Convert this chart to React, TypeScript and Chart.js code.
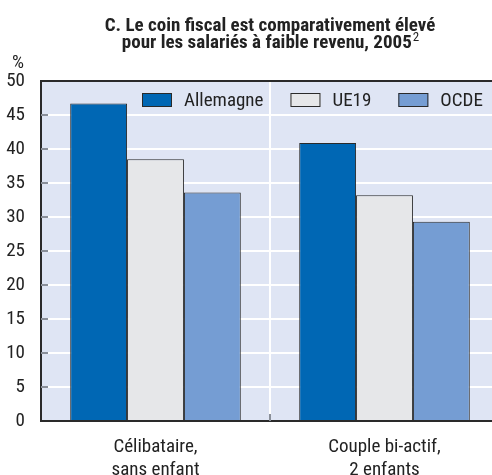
import React, { useEffect, useRef } from "react";
import { Chart, registerables } from "chart.js";

Chart.register(...registerables);

const titleLines = ["C. Le coin fiscal est comparativement élevé", "pour les salariés à faible revenu, 2005"];
const titleSup = "2";
const unitLabel = "%";
const categories = [["Célibataire,", "sans enfant"], ["Couple bi-actif,", "2 enfants"]];
const seriesNames = ["Allemagne", "UE19", "OCDE"];
const allemagne = [46.7, 40.9];
const ue19 = [38.5, 33.2];
const ocde = [33.6, 29.3];
const yTicks = [0, 5, 10, 15, 20, 25, 30, 35, 40, 45, 50];

const FONT = '"Liberation Sans Narrow", "Arial Narrow", "Roboto Condensed", "DejaVu Sans Condensed", "Liberation Sans", sans-serif';
const colors = ["#0067b4", "#e6e7e9", "#759dd3"];

const decorPlugin = {
  id: "decor",
  beforeDraw(chart: any) {
    const { ctx, chartArea: a } = chart;
    ctx.save();
    ctx.fillStyle = "#dfe5f4";
    ctx.fillRect(a.left, a.top, a.right - a.left, a.bottom - a.top);
    ctx.restore();
  },
  afterDatasetsDraw(chart: any) {
    const { ctx, chartArea: a } = chart;
    const y = chart.scales.y;
    const x = chart.scales.x;
    ctx.save();
    ctx.strokeStyle = "#8a8f99";
    ctx.lineWidth = 2;
    yTicks.forEach((v) => {
      if (v === 0 || v === 50) return;
      const py = Math.round(y.getPixelForValue(v));
      ctx.beginPath();
      ctx.moveTo(a.left, py);
      ctx.lineTo(a.left + 7, py);
      ctx.stroke();
    });
    const mid = (x.getPixelForValue(0) + x.getPixelForValue(1)) / 2;
    ctx.beginPath();
    ctx.moveTo(mid, a.bottom);
    ctx.lineTo(mid, a.bottom - 7);
    ctx.stroke();
    ctx.strokeStyle = "#2a2a2a";
    ctx.lineWidth = 2;
    ctx.beginPath();
    ctx.moveTo(a.left - 1, a.top);
    ctx.lineTo(a.right, a.top);
    ctx.stroke();
    ctx.restore();
  },
  afterDraw(chart: any) {
    const { ctx, chartArea: a } = chart;
    ctx.save();
    const cx = (a.left + a.right) / 2;
    ctx.fillStyle = "#222";
    ctx.font = `bold 19px ${FONT}`;
    ctx.textAlign = "center";
    ctx.textBaseline = "alphabetic";
    ctx.fillText(titleLines[0], cx, 31);
    const w2 = ctx.measureText(titleLines[1]).width;
    ctx.font = `13px ${FONT}`;
    const ws = ctx.measureText(titleSup).width;
    const start = cx - (w2 + ws) / 2;
    ctx.textAlign = "left";
    ctx.font = `bold 19px ${FONT}`;
    ctx.fillText(titleLines[1], start, 48);
    ctx.font = `13px ${FONT}`;
    ctx.fillText(titleSup, start + w2 + 1, 41);
    ctx.font = `19px ${FONT}`;
    ctx.textAlign = "center";
    ctx.fillText(unitLabel, 18, 68);
    let lx = a.left + 101;
    const ly = a.top + 12;
    ctx.font = `19px ${FONT}`;
    ctx.textBaseline = "middle";
    ctx.textAlign = "left";
    chart.data.datasets.forEach((ds: any) => {
      ctx.fillStyle = ds.backgroundColor;
      ctx.fillRect(lx, ly, 30, 14);
      ctx.strokeStyle = "#2a2a2a";
      ctx.lineWidth = 1;
      ctx.strokeRect(lx + 0.5, ly + 0.5, 29, 13);
      ctx.fillStyle = "#222";
      ctx.fillText(ds.label, lx + 42, ly + 8);
      lx += 42 + ctx.measureText(ds.label).width + 27;
    });
    ctx.restore();
  },
};

export default function App() {
  const ref = useRef<HTMLCanvasElement>(null);
  useEffect(() => {
    if (!ref.current) return;
    const chart = new Chart(ref.current, {
      type: "bar",
      data: {
        labels: categories,
        datasets: [allemagne, ue19, ocde].map((d, i) => ({
          label: seriesNames[i],
          data: d,
          backgroundColor: colors[i],
          borderColor: "#2a2a2a",
          borderWidth: 1,
          categoryPercentage: 0.745,
          barPercentage: 1,
        })),
      },
      options: {
        responsive: false,
        animation: false,
        layout: { padding: { top: 81, left: 0, right: 0, bottom: 0 } },
        plugins: { legend: { display: false }, title: { display: false }, tooltip: { enabled: false } },
        scales: {
          x: {
            grid: { color: "#ffffff", lineWidth: 2, drawTicks: false, offset: true },
            border: { color: "#2a2a2a", width: 2 },
            ticks: { color: "#222", font: { family: FONT, size: 19 }, padding: 15, maxRotation: 0 },
            afterFit: (s: any) => { s.height = 54; },
          },
          y: {
            min: 0,
            max: 50,
            afterBuildTicks: (s: any) => { s.ticks = yTicks.map((v) => ({ value: v })); },
            grid: { color: "#ffffff", lineWidth: 2, drawTicks: false },
            border: { color: "#2a2a2a", width: 2 },
            ticks: { color: "#222", font: { family: FONT, size: 19 }, padding: 16 },
            afterFit: (s: any) => { s.width = 41; },
          },
        },
      },
      plugins: [decorPlugin],
    });
    return () => chart.destroy();
  }, []);
  return (
    <div style={{ position: "fixed", left: 0, top: 0, width: 492, height: 475, overflow: "hidden", background: "#fff" }}>
      <canvas ref={ref} width={499} height={475} style={{ display: "block" }} />
    </div>
  );
}
